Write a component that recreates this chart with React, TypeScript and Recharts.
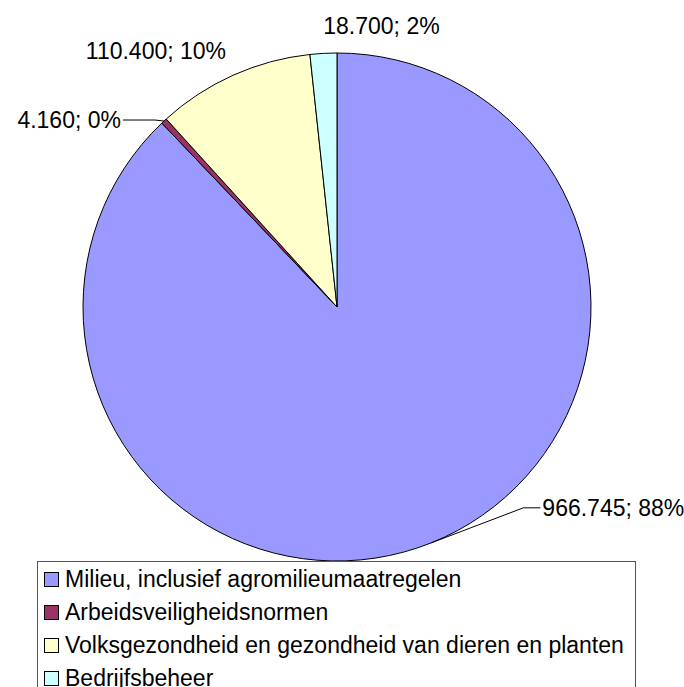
import { PieChart, Pie, Cell } from 'recharts';

// categorieën en bedragen
const categories = [
  'Milieu, inclusief agromilieumaatregelen',
  'Arbeidsveiligheidsnormen',
  'Volksgezondheid en gezondheid van dieren en planten',
  'Bedrijfsbeheer',
];
const amounts = [966745, 4160, 110400, 18700];
const colors = ['#9999FF', '#993366', '#FFFFCC', '#CCFFFF'];

// plaats van de labels t.o.v. het randpunt van elk segment
const labelLayout = [
  { anchor: 'start', tx: 111, ty: -35, elbow: [92, -35] },
  { anchor: 'end', tx: -43, ty: -1, elbow: [-9, -1] },
  { anchor: 'middle', tx: -77, ty: -24, elbow: null },
  { anchor: 'middle', tx: 58, ty: -27, elbow: null },
];

const data = categories.map((name, i) => ({ name, value: amounts[i] }));

const FONT = '"Liberation Sans", Arial, sans-serif';
const RADIAN = Math.PI / 180;

const fmt = (v: number) => String(v).replace(/\B(?=(\d{3})+(?!\d))/g, '.');

const renderLabel = (props: any) => {
  const { cx, cy, midAngle, outerRadius, value, percent, index } = props;
  const ex = cx + outerRadius * Math.cos(-midAngle * RADIAN);
  const ey = cy + outerRadius * Math.sin(-midAngle * RADIAN);
  const l = labelLayout[index];
  const x = ex + l.tx;
  const y = ey + l.ty;
  const gap = l.anchor === 'start' ? -2 : 2;
  return (
    <g key={`lbl-${index}`}>
      {l.elbow && (
        <polyline
          points={`${ex},${ey} ${ex + l.elbow[0]},${ey + l.elbow[1]} ${x + gap},${y}`}
          fill="none"
          stroke="#000"
          strokeWidth={1}
        />
      )}
      <text
        x={x}
        y={y}
        textAnchor={l.anchor as any}
        dominantBaseline="central"
        fill="#000"
        fontSize={23}
        fontFamily={FONT}
      >
        {`${fmt(value)}; ${Math.round(percent * 100)}%`}
      </text>
    </g>
  );
};

export default function App() {
  return (
    <div style={{ position: 'absolute', left: 0, top: 0, width: 684, height: 687, background: '#fff', overflow: 'hidden' }}>
      <PieChart width={684} height={687}>
        <Pie
          data={data}
          dataKey="value"
          nameKey="name"
          cx={332}
          cy={302}
          outerRadius={254}
          startAngle={90}
          endAngle={-270}
          stroke="#000"
          strokeWidth={1}
          label={renderLabel}
          labelLine={false}
          isAnimationActive={false}
        >
          {data.map((d, i) => (
            <Cell key={d.name} fill={colors[i]} />
          ))}
        </Pie>
      </PieChart>
      {/* legenda */}
      <div
        style={{
          position: 'absolute',
          left: 37,
          top: 561,
          width: 597,
          height: 140,
          border: '1px solid #555',
          paddingTop: 1,
          fontFamily: FONT,
          fontSize: 23,
          color: '#000',
        }}
      >
        {categories.map((c, i) => (
          <div key={c} style={{ display: 'flex', alignItems: 'center', height: 33, whiteSpace: 'nowrap' }}>
            <span
              style={{
                display: 'inline-block',
                width: 13,
                height: 13,
                marginLeft: 6,
                marginRight: 6,
                background: colors[i],
                border: '1px solid #000',
              }}
            />
            {c}
          </div>
        ))}
      </div>
    </div>
  );
}
